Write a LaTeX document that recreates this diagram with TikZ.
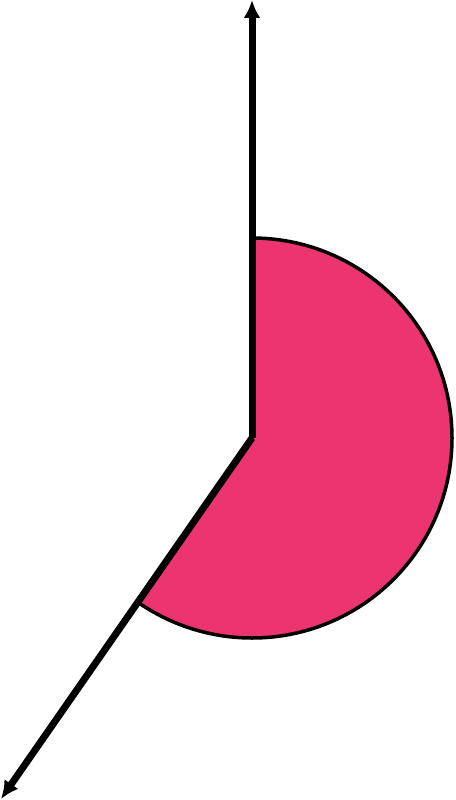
\documentclass[tikz,border=0pt]{standalone}
\usetikzlibrary{arrows.meta}
\definecolor{sectorpink}{HTML}{EC3471}
\begin{document}
\begin{tikzpicture}[x=1pt,y=-1pt,
  ray/.style={line width=7pt,-{Latex[length=18pt,width=17pt]}},
  sector/.style={fill=sectorpink,draw=black,line width=3.5pt,line join=round}]
\useasboundingbox (0,0) rectangle (455,800);
\coordinate (O) at (252,438);
\coordinate (T) at (252,0);
\coordinate (B) at (1,799);
\path[sector] (O) -- ++(0,-200) arc[start angle=-90,end angle=124.85,radius=200] -- cycle;
\draw[ray] (O) -- (T);
\draw[ray] (O) -- (B);
\end{tikzpicture}
\end{document}
